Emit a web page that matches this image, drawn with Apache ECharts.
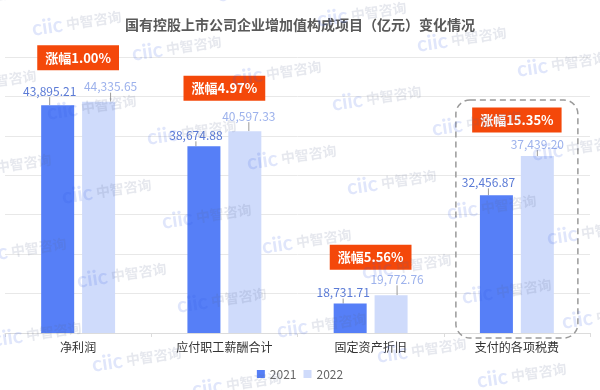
<!DOCTYPE html>
<html><head><meta charset="utf-8">
<script src="https://cdn.jsdelivr.net/npm/echarts@6/dist/echarts.min.js"></script>
<style>html,body{margin:0;padding:0;background:#fff}#c{width:600px;height:390px}</style>
</head><body><div id="c"></div>
<script>
const categories = ['净利润', '应付职工薪酬合计', '固定资产折旧', '支付的各项税费'];
const seriesNames = ['2021', '2022'];
const values2021 = [43895.21, 38674.88, 18731.71, 32456.87];
const values2022 = [44335.65, 40597.33, 19772.76, 37439.20];
const growthPrefix = '涨幅';
const titleText = '国有控股上市公司企业增加值构成项目（亿元）变化情况';
const watermarkLogo = 'ciic';
const watermarkName = '中智咨询';
const highlightIndex = 3;

// layout tweaks (style only)
const labelShift2021 = [[-8, -3], [-8, 0], [-7, 0], [-8, -2]];
const labelShift2022 = [[12, -4], [4, -4], [6, -5], [0, -1]];
const badgeOffsets = [-44, -43, -38, -36];

const growthLabels = values2021.map((v, i) => growthPrefix + ((values2022[i] / v - 1) * 100).toFixed(2) + '%');
const fmt = v => v.toLocaleString('en-US', {minimumFractionDigits: 2, maximumFractionDigits: 2});
const FONT = '"Noto Sans CJK SC", "Noto Sans", sans-serif';

const chart = echarts.init(document.getElementById('c'), null, {renderer: 'canvas'});

const watermarks = [];
for (let i = -6; i <= 7; i++) {
  for (let j = -3; j <= 6; j++) {
    const x = 32 + 100 * i + 15 * j;
    const y = 23 + 25 * i + 84 * j;
    if (x < -110 || x > 610 || y < -25 || y > 415) continue;
    watermarks.push({
      type: 'text', x: x, y: y + 6, rotation: 0.14, z: 100, silent: true,
      style: {
        text: '{a|' + watermarkLogo + '} {b|' + watermarkName + '}',
        verticalAlign: 'middle',
        rich: {
          a: {fontSize: 21, fontWeight: 'bold', fontFamily: 'Lato, sans-serif', fill: 'rgba(50,90,225,0.15)'},
          b: {fontSize: 14, fontWeight: 'bold', fontFamily: FONT, fill: 'rgba(90,100,140,0.15)'}
        }
      }
    });
  }
}

const option = {
  backgroundColor: '#fff',
  animation: false,
  textStyle: {fontFamily: FONT},
  title: {
    text: titleText, left: 'center', top: 13,
    textStyle: {fontSize: 14, fontWeight: 'bold', color: '#595959', fontFamily: FONT}
  },
  legend: {
    data: seriesNames, bottom: 5, left: 'center', icon: 'rect',
    itemWidth: 8, itemHeight: 8, itemGap: 7,
    textStyle: {color: '#666', fontSize: 12, fontFamily: FONT}
  },
  grid: {left: 5, right: 10, top: 57, bottom: 57, containLabel: false},
  xAxis: {
    type: 'category', data: categories,
    axisLine: {lineStyle: {color: '#dcdcdc'}},
    axisTick: {show: true, length: 4, lineStyle: {color: '#dcdcdc'}},
    axisLabel: {color: '#333', fontSize: 12, margin: 8, fontFamily: FONT}
  },
  yAxis: {
    type: 'value', min: 15000, max: 50000, interval: 5000,
    axisLabel: {show: false}, axisLine: {show: false}, axisTick: {show: false},
    splitLine: {lineStyle: {color: '#e8e8e8'}}
  },
  series: [
    {
      name: seriesNames[0], type: 'bar', data: values2021, barWidth: 33, barGap: '24%',
      itemStyle: {color: '#567ff7'},
      label: {show: true, position: 'top', distance: 5, color: '#5b7bd6', fontSize: 12,
        formatter: p => fmt(p.value)},
      labelLayout: p => ({dx: labelShift2021[p.dataIndex][0], dy: labelShift2021[p.dataIndex][1]}),
      labelLine: {show: true, lineStyle: {color: '#999', width: 1}}
    },
    {
      name: seriesNames[1], type: 'bar', data: values2022, barWidth: 33,
      itemStyle: {color: '#cfdbfb'},
      label: {show: true, position: 'top', distance: 5, color: '#9db2ec', fontSize: 12,
        formatter: p => fmt(p.value)},
      labelLayout: p => ({dx: labelShift2022[p.dataIndex][0], dy: labelShift2022[p.dataIndex][1]}),
      labelLine: {show: true, lineStyle: {color: '#999', width: 1}}
    },
    {
      name: 'badge', type: 'scatter', z: 20, symbolSize: 0,
      itemStyle: {color: 'rgba(0,0,0,0)', opacity: 1},
      data: values2022.map((v, i) => ({value: v, label: {offset: [0, badgeOffsets[i]]}})),
      label: {
        show: true, position: 'inside', formatter: p => growthLabels[p.dataIndex],
        color: '#fff', fontWeight: 'bold', fontSize: 13, lineHeight: 13, opacity: 1,
        backgroundColor: '#f4480a', padding: [6, 8], fontFamily: FONT
      }
    }
  ],
  graphic: watermarks
};
chart.setOption(option);

const cx = chart.convertToPixel({xAxisIndex: 0}, categories[highlightIndex]);
chart.setOption({
  graphic: watermarks.concat([{
    type: 'rect', z: 5, silent: true,
    shape: {x: cx - 61, y: 100, width: 122, height: 238, r: 14},
    style: {fill: 'none', stroke: '#9a9a9a', lineWidth: 1.5, lineDash: [6, 4]}
  }])
});
</script></body></html>
